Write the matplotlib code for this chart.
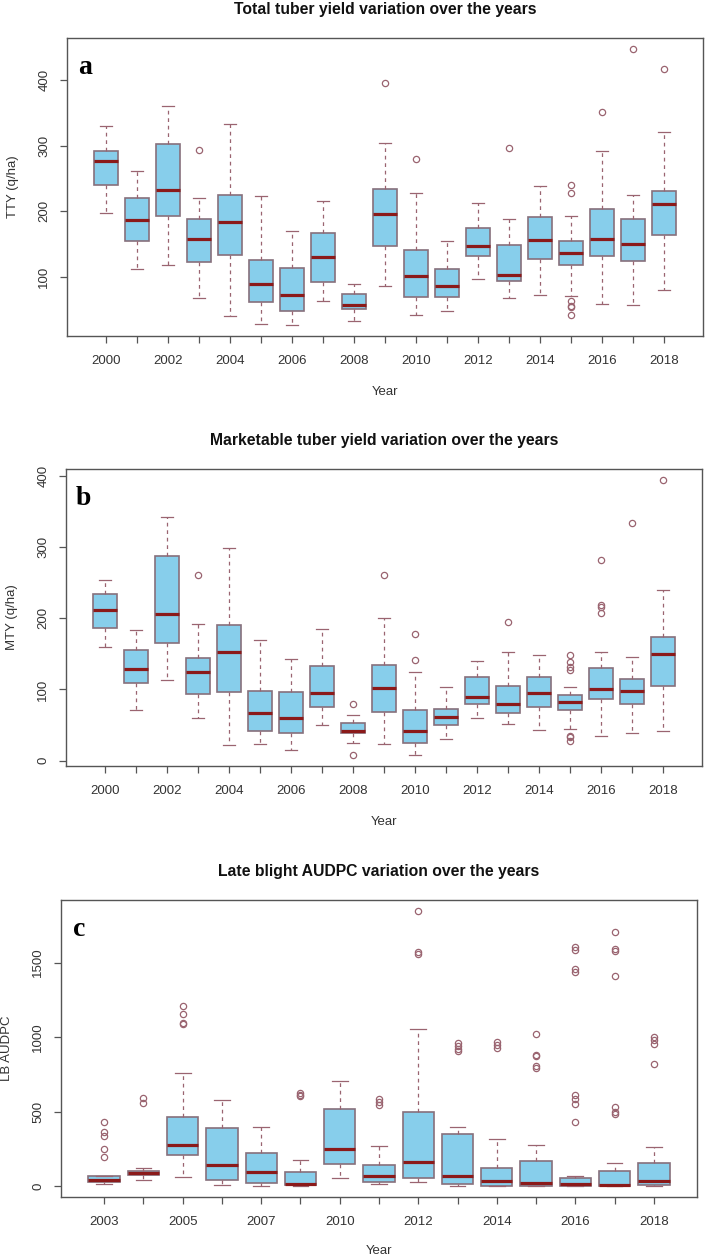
import matplotlib
matplotlib.use("Agg")
from matplotlib import pyplot as plt

plt.rcParams['font.family'] = ['Liberation Sans', 'DejaVu Sans']

# ---- panel a: total tuber yield (q/ha)
tty_years = list(range(2000, 2019))
tty_low = [197, 111, 117, 68, 40, 28, 26, 62, 32, 86, 42, 47, 96, 67, 72, 70, 58, 57, 80]
tty_q1 = [240, 155, 193, 122, 133, 61, 48, 92, 51, 147, 69, 69, 131, 94, 127, 118, 131, 124, 163]
tty_med = [277, 186, 233, 157, 184, 89, 72, 130, 56, 196, 101, 86, 147, 103, 156, 136, 157, 150, 211]
tty_q3 = [292, 220, 302, 188, 225, 126, 113, 166, 73, 234, 141, 111, 175, 149, 191, 155, 204, 188, 231]
tty_high = [331, 261, 361, 220, 334, 223, 169, 216, 88, 304, 228, 155, 212, 188, 238, 193, 292, 225, 321]
tty_out = [[], [], [], [293], [], [], [], [], [], [396], [280], [], [], [296], [],
           [240, 228, 63, 55, 53, 41], [351], [448], [418]]

# ---- panel b: marketable tuber yield (q/ha)
mty_years = list(range(2000, 2019))
mty_low = [159, 71, 113, 60, 22, 23, 15, 50, 25, 23, 8, 30, 60, 52, 43, 45, 34, 39, 41]
mty_q1 = [186, 109, 165, 93, 97, 42, 39, 75, 39, 68, 25, 50, 80, 67, 75, 71, 86, 80, 105]
mty_med = [212, 129, 206, 124, 152, 67, 60, 95, 42, 102, 42, 62, 90, 79, 95, 82, 101, 98, 150]
mty_q3 = [234, 156, 288, 144, 191, 98, 96, 133, 53, 135, 71, 73, 118, 105, 118, 92, 130, 114, 174]
mty_high = [253, 184, 342, 192, 298, 170, 143, 185, 64, 201, 125, 104, 140, 153, 148, 104, 152, 146, 239]
mty_out = [[], [], [], [260], [], [], [], [], [79, 8], [261], [178, 142], [], [], [195], [],
           [148, 139, 132, 128, 35, 33, 28], [282, 219, 216, 207], [334], [394]]

# ---- panel c: late blight AUDPC
lb_years = [2003, 2004, 2005, 2006, 2007, 2008, 2010, 2011, 2012, 2013, 2014, 2015, 2016, 2017, 2018]
lb_low = [13, 40, 58, 9, 0, 0, 54, 11, 27, 0, 0, 0, 0, 0, 0]
lb_q1 = [27, 74, 209, 43, 18, 4, 148, 29, 54, 16, 0, 0, 2, 0, 7]
lb_med = [40, 87, 276, 141, 97, 11, 247, 65, 160, 65, 34, 22, 11, 9, 34]
lb_q3 = [67, 101, 460, 386, 222, 97, 519, 144, 496, 350, 123, 168, 54, 103, 153]
lb_high = [67, 121, 757, 575, 395, 173, 707, 270, 1055, 395, 317, 278, 65, 157, 263]
lb_out = [[427, 364, 335, 247, 195], [590, 557], [1206, 1156, 1096, 1085], [], [],
          [624, 611, 604], [], [582, 561, 546], [1846, 1570, 1558], [959, 941, 923, 905],
          [966, 945, 927], [1020, 880, 873, 804, 795],
          [1603, 1581, 1460, 1435, 613, 584, 548, 431],
          [1704, 1591, 1577, 1408, 532, 494, 483], [999, 981, 952, 822]]

FILL = '#87CEEB'
EDGE = '#86707c'
WHISK = '#9a6470'
MEDIAN = '#8b1a1a'
AXCOL = '#555555'
TXT = '#333333'


def make_stats(low, q1, med, q3, high, out):
    stats = []
    for i in range(len(med)):
        stats.append({'whislo': low[i], 'q1': q1[i], 'med': med[i], 'q3': q3[i],
                      'whishi': high[i], 'fliers': out[i]})
    return stats


def draw_panel(rect, years, stats, yticks, title, ylabel, letter, ylab_x, xlab_y):
    ax = fig.add_axes(rect)
    n = len(years)
    pos = list(range(1, n + 1))
    ax.bxp(stats, positions=pos, widths=0.8, capwidths=0.4, patch_artist=True,
           boxprops=dict(facecolor=FILL, edgecolor=EDGE, linewidth=1.2),
           whiskerprops=dict(color=WHISK, linewidth=0.9, linestyle=(0, (3, 3))),
           capprops=dict(color=WHISK, linewidth=0.9),
           medianprops=dict(color=MEDIAN, linewidth=2.3),
           flierprops=dict(marker='o', markerfacecolor='none', markeredgecolor=WHISK,
                           markersize=4.5, markeredgewidth=0.9))
    ax.set_xlim(0.5 - 0.04 * n, n + 0.5 + 0.04 * n)
    ax.margins(y=0.04)
    ax.autoscale(axis='y')
    ax.set_xticks(pos)
    # R drops every second label when they would overlap
    ax.set_xticklabels([str(y) if i % 2 == 0 else '' for i, y in enumerate(years)])
    ax.set_yticks(yticks)
    ax.set_yticklabels([str(t) for t in yticks], rotation=90, va='center')
    ax.tick_params(axis='both', direction='out', length=5, width=0.9, color=AXCOL,
                   labelsize=9.5, labelcolor=TXT)
    ax.tick_params(axis='x', pad=9)
    ax.tick_params(axis='y', pad=7)
    for sp in ax.spines.values():
        sp.set_color(AXCOL)
        sp.set_linewidth(1.0)
    ax.set_title(title, fontsize=11.3, fontweight='bold', pad=17, color='#111111')
    ax.set_xlabel('Year', fontsize=9.5, color=TXT)
    ax.xaxis.set_label_coords(0.5, xlab_y)
    ax.set_ylabel(ylabel, fontsize=9.5, color=TXT)
    ax.yaxis.set_label_coords(ylab_x, 0.5)
    ax.text(0.028, 0.9, letter, transform=ax.transAxes, ha='center', va='center',
            fontsize=20, fontweight='bold', family='Liberation Serif')
    return ax


fig = plt.figure(figsize=(7.05, 12.58), dpi=100)

draw_panel([67 / 705, 1 - 336 / 1258, 636 / 705, 298 / 1258], tty_years,
           make_stats(tty_low, tty_q1, tty_med, tty_q3, tty_high, tty_out),
           [100, 200, 300, 400], 'Total tuber yield variation over the years',
           'TTY (q/ha)', 'a', -0.076, -0.168)
draw_panel([66 / 705, 1 - 766 / 1258, 636 / 705, 297 / 1258], mty_years,
           make_stats(mty_low, mty_q1, mty_med, mty_q3, mty_high, mty_out),
           [0, 100, 200, 300, 400], 'Marketable tuber yield variation over the years',
           'MTY (q/ha)', 'b', -0.075, -0.168)
draw_panel([61 / 705, 1 - 1197 / 1258, 636 / 705, 297 / 1258], lb_years,
           make_stats(lb_low, lb_q1, lb_med, lb_q3, lb_high, lb_out),
           [0, 500, 1000, 1500], 'Late blight AUDPC variation over the years',
           'LB AUDPC', 'c', -0.075, -0.163)

fig.savefig('out.png', dpi=100, facecolor='white')
